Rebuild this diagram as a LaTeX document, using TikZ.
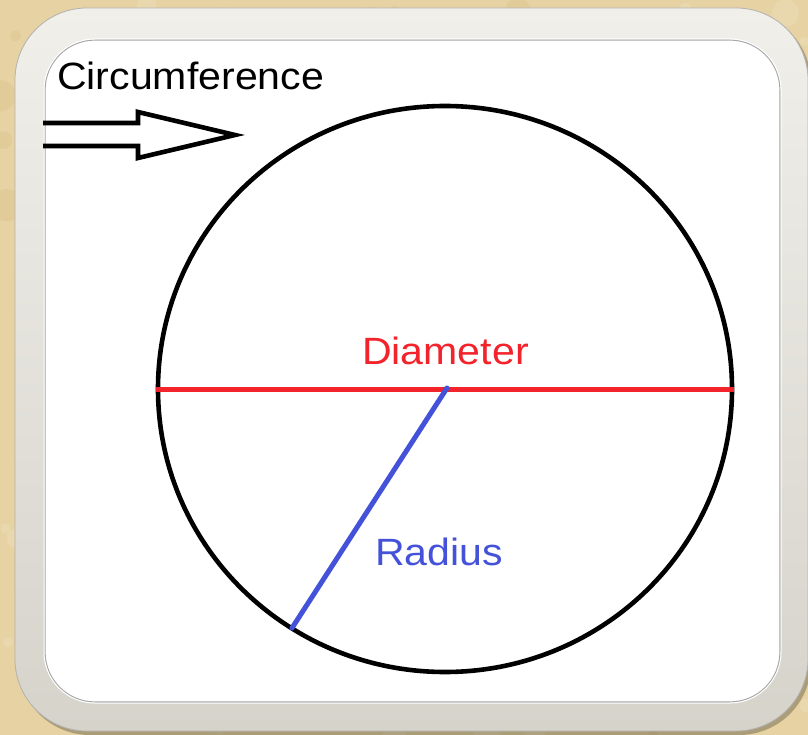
\documentclass[tikz,border=0pt]{standalone}
\usepackage{fontspec}
\setmainfont{Liberation Sans}
\usetikzlibrary{shapes.geometric}
\definecolor{parch}{HTML}{E6D2A2}
\definecolor{parchdark}{HTML}{CFAE6E}
\definecolor{parchlight}{HTML}{F1E4C6}
\definecolor{framelight}{HTML}{F0EFEA}
\definecolor{framedark}{HTML}{D6D3CB}
\definecolor{diamred}{HTML}{F2232B}
\definecolor{radblue}{HTML}{4452D9}
\tikzset{
  lbl/.style={font=\fontsize{38}{40}\selectfont, inner sep=0pt, xscale=1.08},
  circline/.style={draw=black, line width=4.6pt},
  diamline/.style={draw=diamred, line width=5pt},
  radline/.style={draw=radblue, line width=5pt},
  arrowline/.style={draw=black, line width=4.6pt, line join=miter},
}
\begin{document}
\begin{tikzpicture}[x=1pt,y=-1pt]
\useasboundingbox (0,0) rectangle (808,735);
% parchment background
\fill[parch] (0,0) rectangle (808,735);
\pgfmathsetseed{7}
\foreach \i in {1,...,160}{
  \pgfmathsetmacro{\px}{rnd*808}
  \pgfmathsetmacro{\py}{rnd*735}
  \pgfmathsetmacro{\pr}{4+rnd*14}
  \fill[parchdark, opacity=0.18] (\px,\py) circle[radius=\pr];
}
\foreach \i in {1,...,100}{
  \pgfmathsetmacro{\px}{rnd*808}
  \pgfmathsetmacro{\py}{rnd*735}
  \pgfmathsetmacro{\pr}{4+rnd*12}
  \fill[parchlight, opacity=0.35] (\px,\py) circle[radius=\pr];
}
% frame shadow
\fill[black, opacity=0.25, rounded corners=72pt] (18,11) rectangle (811,735);
% frame
\shade[rounded corners=72pt, top color=framelight, bottom color=framedark, shading angle=0]
  (15,8) rectangle (808,731);
\draw[gray!60, line width=0.8pt, rounded corners=72pt] (15,8) rectangle (808,731);
% inner white panel
\fill[white, rounded corners=50pt] (45,40) rectangle (780,702);
\draw[gray!70, line width=1.2pt, rounded corners=50pt] (45,40) rectangle (780,702);
\draw[white, line width=1pt, rounded corners=51pt] (44,39) rectangle (781,703);

% circle
\node[ellipse, circline, minimum width=574pt, minimum height=566pt, inner sep=0pt] (circ) at (445,389) {};
\coordinate (ctr) at (447,388);
\coordinate (rend) at (292,628);
\draw[diamline] (circ.west) -- (circ.east);
\draw[radline, line cap=round] (ctr) -- (rend);

% hollow arrow
\coordinate (atail1) at (43,123);
\coordinate (atail2) at (43,146);
\coordinate (atip) at (235,135);
\draw[arrowline] (atail1) -- (138,123) -- (138,112) -- (atip) -- (138,158) -- (138,146) -- (atail2);

% labels
\node[lbl, anchor=base west] (tcirc) at (57,90) {Circumference};
\node[lbl, anchor=base west, text=diamred] (tdiam) at (362,364) {Diameter};
\node[lbl, anchor=base west, text=radblue] (trad) at (375,565) {Radius};
\end{tikzpicture}
\end{document}
